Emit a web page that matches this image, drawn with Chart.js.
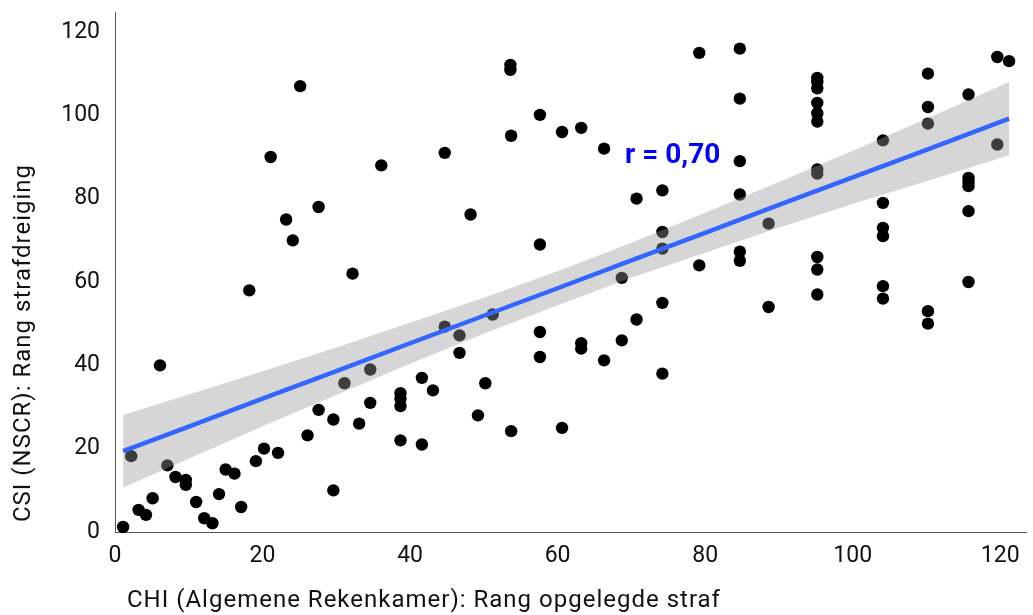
<!DOCTYPE html>
<html lang="nl">
<head>
    <meta charset="UTF-8">
    <meta name="viewport" content="width=device-width, initial-scale=1.0">
    <script src="https://cdn.jsdelivr.net/npm/chart.js@4.4.1/dist/chart.umd.min.js"></script>
    <title>CHI vs CSI</title>
    <style>
        html, body { margin: 0; padding: 0; background: #fff; }
        #wrap { width: 1033px; height: 615px; }
    </style>
</head>
<body>
    <div id="wrap"><canvas id="chart" width="1033" height="615"></canvas></div>

    <script>
        // rang CHI (x) en rang CSI (y)
        const chiRank = [
            1.1, 2.2, 3.2, 4.2, 5.1, 6.1, 7.1, 8.2, 9.6, 9.6,
            11.0, 12.1, 13.2, 14.1, 15.0, 16.2, 17.1, 18.2, 19.1, 20.2,
            21.1, 22.1, 23.2, 24.1, 25.1, 26.1, 27.6, 27.6, 29.6, 29.6,
            31.1, 32.2, 33.1, 34.6, 34.6, 36.1, 38.7, 38.7, 38.7, 38.7,
            41.6, 41.6, 43.1, 44.7, 44.7, 46.7, 46.7, 48.2, 49.2, 50.2,
            51.2, 53.6, 53.6, 53.7, 53.7, 57.6, 57.6, 57.6, 57.6, 60.6,
            60.6, 63.2, 63.2, 63.2, 66.3, 66.3, 68.7, 68.7, 70.7, 70.7,
            74.2, 74.2, 74.2, 74.2, 74.2, 79.2, 79.2, 84.7, 84.7, 84.7,
            84.7, 84.7, 84.7, 88.6, 88.6,
            95.2, 95.2, 95.2, 95.2, 95.2, 95.2, 95.2, 95.2, 95.2, 95.2, 95.2,
            104.1, 104.1, 104.1, 104.1, 104.1, 104.1,
            110.2, 110.2, 110.2, 110.2, 110.2,
            115.7, 115.7, 115.7, 115.7, 115.7, 115.7,
            119.6, 119.6, 121.2
        ];
        const csiRank = [
            1.2, 18.2, 5.3, 4.1, 8.1, 40, 16, 13.2, 12.5, 11.3,
            7.2, 3.3, 2.1, 9.1, 15, 14, 6, 58, 17, 20,
            90, 19, 75, 70, 107, 23.2, 78, 29.3, 27, 10,
            35.7, 62, 26, 39, 31, 88, 33.3, 31.9, 30.2, 22,
            37, 21, 34, 91, 49.3, 47.2, 43, 76.2, 28, 35.7,
            52.2, 112.1, 110.9, 95.1, 24.2, 100.1, 69, 48, 42, 96,
            25, 97, 45.3, 44, 92, 41.2, 61, 46, 80, 51,
            82, 72, 68, 55, 38, 115, 64, 116, 104, 89,
            81, 67.3, 65.1, 74, 54,
            109, 108, 106.5, 103, 100.5, 98.5, 87, 86, 66, 63, 57,
            94, 79, 73, 71, 59, 56,
            110, 102, 98, 53, 50,
            105, 85, 84, 83, 77, 60,
            114, 93, 113
        ];

        // regressielijn met betrouwbaarheidsband
        const fitX     = [1.1, 10, 20, 30, 40, 50, 60, 70, 80, 90, 100, 110, 121.2];
        const fitY     = [19.4, 25.3, 32.0, 38.6, 45.3, 51.9, 58.5, 65.2, 71.8, 78.5, 85.1, 91.7, 99.2];
        const bandHigh = [28.1, 33.0, 38.6, 44.3, 50.2, 56.2, 62.6, 69.4, 76.6, 84.0, 91.5, 99.2, 108.0];
        const bandLow  = [10.7, 17.6, 25.4, 32.9, 40.4, 47.6, 54.4, 61.0, 67.0, 73.0, 78.7, 84.2, 90.4];

        const xTicks = [0, 20, 40, 60, 80, 100, 120];
        const yTicks = [0, 20, 40, 60, 80, 100, 120];

        const rLabel = { text: 'r = 0,70', x: 75.6, y: 90.3 };
        const xTitle = 'CHI (Algemene Rekenkamer): Rang opgelegde straf';
        const yTitle = 'CSI (NSCR): Rang strafdreiging';

        const pair = (xs, ys) => xs.map((x, i) => ({ x: x, y: ys[i] }));

        const FONT = 'Roboto, "Noto Sans", sans-serif';

        const annotate = {
            id: 'annotate',
            afterDatasetsDraw(chart) {
                const ctx = chart.ctx;
                const xs = chart.scales.x, ys = chart.scales.y;
                ctx.save();
                ctx.fillStyle = '#0000FF';
                ctx.font = 'bold 28px ' + FONT;
                ctx.textAlign = 'center';
                ctx.textBaseline = 'middle';
                ctx.fillText(rLabel.text, xs.getPixelForValue(rLabel.x), ys.getPixelForValue(rLabel.y));
                ctx.restore();
            },
            afterDraw(chart) {
                const ctx = chart.ctx;
                ctx.save();
                ctx.fillStyle = '#111';
                ctx.font = '24px ' + FONT;
                ctx.letterSpacing = '1px';
                ctx.textBaseline = 'middle';
                ctx.textAlign = 'left';
                ctx.fillText(xTitle, 127, 601);
                ctx.translate(24, 522);
                ctx.rotate(-Math.PI / 2);
                ctx.fillText(yTitle, 0, 0);
                ctx.restore();
            }
        };

        new Chart(document.getElementById('chart'), {
            type: 'scatter',
            data: {
                datasets: [
                    {
                        type: 'line',
                        data: pair(fitX, fitY),
                        borderColor: '#3366FF',
                        borderWidth: 4.5,
                        pointRadius: 0,
                        fill: false,
                        order: 0
                    },
                    {
                        type: 'line',
                        data: pair(fitX, bandHigh),
                        borderWidth: 0,
                        borderColor: 'rgba(0,0,0,0)',
                        backgroundColor: 'rgba(153,153,153,0.4)',
                        pointRadius: 0,
                        fill: '+1',
                        order: 1
                    },
                    {
                        type: 'line',
                        data: pair(fitX, bandLow),
                        borderWidth: 0,
                        borderColor: 'rgba(0,0,0,0)',
                        pointRadius: 0,
                        fill: false,
                        order: 2
                    },
                    {
                        data: pair(chiRank, csiRank),
                        backgroundColor: '#000',
                        borderWidth: 0,
                        pointRadius: 6.2,
                        clip: false,
                        order: 3
                    }
                ]
            },
            options: {
                responsive: false,
                animation: false,
                layout: { padding: { top: 12, right: 0, left: 0, bottom: 0 } },
                plugins: {
                    legend: { display: false },
                    tooltip: { enabled: false }
                },
                scales: {
                    x: {
                        type: 'linear',
                        min: 0,
                        max: 123.6,
                        grid: { display: false, drawTicks: false },
                        border: { display: true, color: '#555', width: 1 },
                        afterBuildTicks: s => { s.ticks = xTicks.map(v => ({ value: v })); },
                        afterFit: s => { s.height = 83; s.paddingLeft = 0; s.paddingRight = 0; },
                        ticks: {
                            color: '#111',
                            padding: 10,
                            font: { family: FONT, size: 23 }
                        }
                    },
                    y: {
                        type: 'linear',
                        min: 0,
                        max: 124.8,
                        grid: { display: false, drawTicks: false },
                        border: { display: true, color: '#555', width: 1 },
                        afterBuildTicks: s => { s.ticks = yTicks.map(v => ({ value: v })); },
                        afterFit: s => { s.width = 115; s.paddingTop = 0; s.paddingBottom = 0; },
                        ticks: {
                            color: '#111',
                            padding: 15,
                            font: { family: FONT, size: 23 }
                        }
                    }
                }
            },
            plugins: [annotate]
        });
    </script>
</body>
</html>
